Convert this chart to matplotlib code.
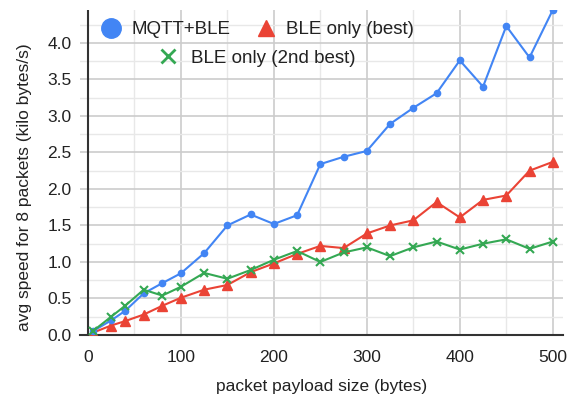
import matplotlib.pyplot as plt
from matplotlib.lines import Line2D
from matplotlib.ticker import MultipleLocator

plt.rcParams['font.family'] = ['Liberation Sans', 'DejaVu Sans']

size = [5, 25, 40, 60, 80, 100, 125, 150, 175, 200, 225, 250, 275,
        300, 325, 350, 375, 400, 425, 450, 475, 500]
mqtt_ble = [0.05, 0.20, 0.33, 0.57, 0.71, 0.845, 1.12, 1.50, 1.65, 1.52, 1.64,
            2.34, 2.44, 2.52, 2.89, 3.11, 3.31, 3.76, 3.40, 4.23, 3.80, 4.45]
ble_best = [0.03, 0.13, 0.19, 0.28, 0.40, 0.51, 0.62, 0.685, 0.86, 0.98, 1.11,
            1.22, 1.19, 1.39, 1.50, 1.57, 1.82, 1.61, 1.85, 1.91, 2.25, 2.37]
ble_2nd = [0.05, 0.25, 0.40, 0.62, 0.54, 0.66, 0.85, 0.77, 0.89, 1.03, 1.15,
           1.00, 1.13, 1.20, 1.08, 1.20, 1.28, 1.17, 1.25, 1.31, 1.18, 1.28]

blue = '#4285F4'
red = '#EA4335'
green = '#34A853'

fig = plt.figure(figsize=(5.73, 3.99), dpi=100)
ax = fig.add_axes([80/573, 1-335/399, 483/573, 325/399])

ax.plot(size, mqtt_ble, '-o', color=blue, lw=1.5, ms=4.5, zorder=5)
ax.plot(size, ble_best, '-^', color=red, lw=1.5, ms=7, zorder=4)
ax.plot(size, ble_2nd, '-x', color=green, lw=1.5, ms=6, mew=1.5, zorder=6)

ax.set_xlim(-8.5, 511)
ax.set_ylim(0, 4.45)
ax.xaxis.set_major_locator(MultipleLocator(100))
ax.xaxis.set_minor_locator(MultipleLocator(50))
ax.yaxis.set_major_locator(MultipleLocator(0.5))
ax.yaxis.set_minor_locator(MultipleLocator(0.25))
ax.yaxis.set_major_formatter(lambda v, p: f'{v:.1f}')
ax.grid(which='major', color='#cccccc', lw=1.2, zorder=0)
ax.grid(which='minor', color='#e8e8e8', lw=1.0, zorder=0)
ax.set_axisbelow(True)
ax.tick_params(which='both', length=0, labelsize=12.5, colors='#222222')
ax.tick_params(axis='y', pad=6)
ax.tick_params(axis='x', pad=11)

for s in ['top', 'right', 'left']:
    ax.spines[s].set_visible(False)
ax.spines['bottom'].set_color('#333333')
ax.spines['bottom'].set_linewidth(1.5)
ax.axvline(0, color='#333333', lw=1.5, zorder=3)

ax.set_xlabel('packet payload size (bytes)', fontsize=12.5, color='#222222')
ax.set_ylabel('avg speed for 8 packets (kilo bytes/s)', fontsize=12.5, color='#222222')
ax.yaxis.set_label_coords(-0.10, 0.455)
ax.xaxis.set_label_coords(0.5, -0.135)

h1 = Line2D([], [], ls='none', marker='o', color=blue, ms=14)
h2 = Line2D([], [], ls='none', marker='^', color=red, ms=12)
h3 = Line2D([], [], ls='none', marker='x', color=green, ms=10, mew=2)
leg1 = ax.legend([h1, h2], ['MQTT+BLE', 'BLE only (best)'], ncol=2,
                 loc='center', bbox_to_anchor=(0.366, 0.94), frameon=False,
                 fontsize=13.5, handletextpad=0.5, columnspacing=1.3,
                 handlelength=1.2, borderpad=0, labelcolor='#222222')
ax.add_artist(leg1)
ax.legend([h3], ['BLE only (2nd best)'], loc='center',
          bbox_to_anchor=(0.365, 0.852), frameon=False, fontsize=13.5,
          handletextpad=0.6, handlelength=1.2, borderpad=0, labelcolor='#222222')

fig.savefig('out.png', dpi=100)
